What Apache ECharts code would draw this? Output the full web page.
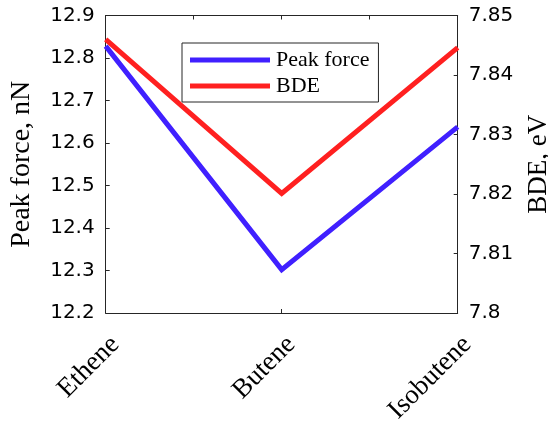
<!DOCTYPE html>
<html>
<head>
<meta charset="utf-8">
<script src="https://cdn.jsdelivr.net/npm/echarts@6/dist/echarts.min.js"></script>
<style>
  html, body { margin: 0; padding: 0; background: #fff; }
  #chart { width: 548px; height: 423px; }
</style>
</head>
<body>
<div id="chart"></div>
<script>
// Molecules on the x axis
const categories = ['Ethene', 'Butene', 'Isobutene'];
// Peak force (nN), left axis
const peakForce = [12.828, 12.302, 12.638];
// Bond dissociation energy (eV), right axis
const bde = [7.8460, 7.8201, 7.8446];

const serif = '"Liberation Serif", "DejaVu Serif", serif';
const sans = '"DejaVu Sans", sans-serif';
const axisColor = '#262626';

const chart = echarts.init(document.getElementById('chart'), null, { renderer: 'canvas' });

chart.setOption({
  animation: false,
  backgroundColor: '#fff',
  grid: {
    left: 105.7, right: 90.3, top: 15.5, bottom: 110,
    containLabel: false,
    outerBoundsMode: 'none'
  },
  legend: {
    orient: 'vertical',
    left: 182,
    top: 43,
    icon: 'rect',
    itemWidth: 80,
    itemHeight: 5,
    itemGap: 4,
    padding: [6, 9, 5, 8],
    borderColor: '#262626',
    borderWidth: 1,
    backgroundColor: '#fff',
    textStyle: { fontFamily: serif, fontSize: 22, color: '#000', lineHeight: 22, padding: [0, 0, 0, 1] },
    data: ['Peak force', 'BDE']
  },
  xAxis: [
    {
      type: 'category',
      data: categories,
      boundaryGap: false,
      position: 'bottom',
      axisLine: { lineStyle: { color: axisColor, width: 1 } },
      axisTick: { inside: true, length: 4, lineStyle: { color: axisColor } },
      axisLabel: {
        rotate: 45,
        margin: 18,
        verticalAlign: 'top',
        fontFamily: serif,
        fontSize: 27,
        color: '#000'
      },
      splitLine: { show: false }
    },
    {
      // top edge of the frame with its minor ticks
      type: 'value',
      position: 'top',
      min: 0,
      max: 4,
      interval: 1,
      axisLine: { show: true, lineStyle: { color: axisColor, width: 1 } },
      axisTick: { show: true, inside: true, length: 4, lineStyle: { color: axisColor } },
      axisLabel: { show: false },
      splitLine: { show: false }
    }
  ],
  yAxis: [
    {
      type: 'value',
      min: 12.2,
      max: 12.9,
      interval: 0.1,
      position: 'left',
      name: 'Peak force, nN',
      nameLocation: 'middle',
      nameGap: 70,
      nameTextStyle: { fontFamily: serif, fontSize: 28, color: '#000' },
      axisLine: { show: true, lineStyle: { color: axisColor, width: 1 } },
      axisTick: { show: true, inside: true, length: 4, lineStyle: { color: axisColor } },
      axisLabel: {
        margin: 11,
        fontFamily: sans,
        fontSize: 20,
        color: '#000',
        formatter: v => v.toFixed(1)
      },
      splitLine: { show: false }
    },
    {
      type: 'value',
      min: 7.8,
      max: 7.85,
      interval: 0.01,
      position: 'right',
      name: 'BDE, eV',
      nameLocation: 'middle',
      nameGap: 68,
      nameRotate: 90,
      nameTextStyle: { fontFamily: serif, fontSize: 27, color: '#000' },
      axisLine: { show: true, lineStyle: { color: axisColor, width: 1 } },
      axisTick: { show: true, inside: true, length: 4, lineStyle: { color: axisColor } },
      axisLabel: {
        margin: 11,
        fontFamily: sans,
        fontSize: 20,
        color: '#000',
        formatter: v => String(parseFloat(v.toFixed(2)))
      },
      splitLine: { show: false }
    }
  ],
  series: [
    {
      name: 'Peak force',
      type: 'line',
      xAxisIndex: 0,
      yAxisIndex: 0,
      data: peakForce,
      symbol: 'none',
      color: '#4020FF',
      lineStyle: { width: 5, color: '#4020FF', join: 'miter' }
    },
    {
      name: 'BDE',
      type: 'line',
      xAxisIndex: 0,
      yAxisIndex: 1,
      data: bde,
      symbol: 'none',
      color: '#FF2020',
      lineStyle: { width: 5, color: '#FF2020', join: 'miter' }
    }
  ]
});
</script>
</body>
</html>
